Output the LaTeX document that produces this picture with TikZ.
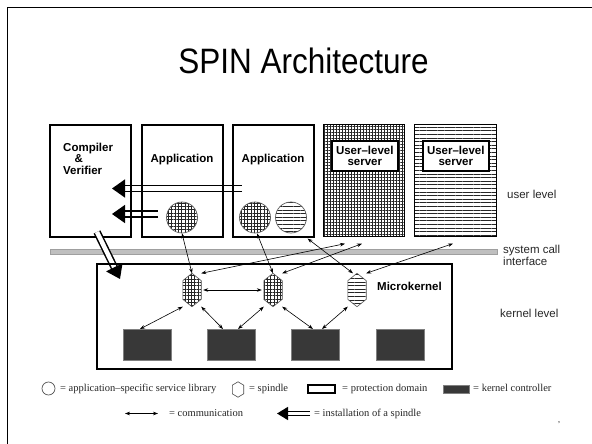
\documentclass[tikz,border=0pt]{standalone}
\usepackage{fontspec}
\setmainfont{Liberation Serif}
\setsansfont{Liberation Sans}
\usetikzlibrary{arrows.meta,patterns.meta,calc}

\newcommand{\spindleshape}[2]{%
	\draw[gray!60!black, line width=.6pt, preaction={fill=white}, #2]
		(#1.north) -- ($(#1.north east)!.22!(#1.south east)$)
		-- ($(#1.south east)!.22!(#1.north east)$) -- (#1.south)
		-- ($(#1.south west)!.22!(#1.north west)$)
		-- ($(#1.north west)!.22!(#1.south west)$) -- cycle;}

\begin{document}
\begin{tikzpicture}[
		x=1pt, y=-1pt,
		every node/.style={inner sep=0pt},
		pdomain/.style={draw, line width=1.6pt, minimum width=81, minimum height=112, anchor=north west},
		boxtext/.style={font=\sffamily\bfseries\fontsize{11.5}{11.5}\selectfont},
		side/.style={font=\sffamily\fontsize{11.5}{12}\selectfont, text=black!85, anchor=base west, align=left},
		gridfill/.style={pattern={Hatch[distance=3.3pt, line width=.55pt]}, pattern color=black!85},
		linefill/.style={pattern={Lines[distance=3.6pt, line width=.6pt]}, pattern color=black!85},
		lib/.style={circle, draw=gray!70!black, line width=.7pt, minimum size=31},
		spin/.style={minimum width=18, minimum height=33},
		ctrl/.style={draw=gray, fill=black!78, minimum width=48, minimum height=31, anchor=north west},
		comm/.style={{Stealth[length=5pt, width=3.6pt]}-{Stealth[length=5pt, width=3.6pt]}, line width=.6pt},
		install/.style={double, double distance=4.5pt, line width=1.5pt, -{Triangle[length=13pt, width=18pt]}},
		legend/.style={font=\fontsize{10.5}{12}\selectfont, text=black!85, anchor=base west}]

	\useasboundingbox (0,0) rectangle (592,444);
	\draw[line width=1.5pt] (7.5,444) -- (7.5,7.5) -- (592,7.5);
	\node[font=\sffamily\fontsize{31.5}{34}\selectfont, anchor=base] (title) at (303.5,74) {\scalebox{1}[1.12]{SPIN Architecture}};

	\coordinate (inA) at (242,188.5);
	\coordinate (tipA) at (112,188.5);
	\coordinate (inB) at (158,214);
	\coordinate (tipB) at (112,214);
	\coordinate (inC) at (97,232);
	\coordinate (tipC) at (120,279);
	\draw[install] (inA) -- (tipA);
	\draw[install] (inB) -- (tipB);

	\node[pdomain] (cv) at (49,124) {};
	\node[pdomain] (a1) at (141,124) {};
	\node[pdomain] (a2) at (232,124) {};
	\node[pdomain, gridfill, pattern={Hatch[distance=3pt, line width=.7pt]}] (sv1) at (323,124) {};
	\node[pdomain, linefill, minimum width=82] (sv2) at (414,124) {};
	\node[draw, line width=1.6pt, fill=white, minimum width=66, minimum height=30, anchor=north west,
		boxtext, align=center] (sv1in) at (331,140) {User--level\\server};
	\node[draw, line width=1.6pt, fill=white, minimum width=66, minimum height=30, anchor=north west,
		boxtext, align=center] (sv2in) at (422,140) {User--level\\server};

	\node[boxtext, align=left, anchor=north west] (cvtext) at (63,142.5) {Compiler\\\quad\&\\Verifier};
	\node[boxtext, anchor=base] (a1text) at (182,162) {Application};
	\node[boxtext, anchor=base] (a2text) at (273,162) {Application};

	\node[lib, gridfill] (c1) at (182,217.5) {};
	\node[lib, gridfill] (c2) at (255,217.5) {};
	\node[lib, linefill] (c3) at (291,217.5) {};

	\fill[gray!50, draw=gray!75] (50,249.5) rectangle (497,254);
	\draw[install] (inC) -- (tipC);

	\node[draw, line width=2pt, minimum width=355, minimum height=105, anchor=north west] (mk) at (96,263) {};
	\node[boxtext, anchor=base west] (mktext) at (377,290) {Microkernel};

	\node[side] (user) at (507,198) {user level};
	\node[side, anchor=north west] (sys) at (503,244.5) {system call\\interface};
	\node[side] (kern) at (500,317) {kernel level};

	\node[spin] (s1) at (192,290) {};
	\node[spin] (s2) at (273,290) {};
	\node[spin] (s3) at (357,290) {};
	\spindleshape{s1}{gridfill}
	\spindleshape{s2}{gridfill}
	\spindleshape{s3}{linefill}

	\node[ctrl] (k1) at (123,329) {};
	\node[ctrl] (k2) at (207,329) {};
	\node[ctrl] (k3) at (291,329) {};
	\node[ctrl] (k4) at (376,329) {};

	\draw[comm] (c1.south) -- (s1.north);
	\draw[comm] ([xshift=2]c2.south) -- (s2.north);
	\draw[comm] ([xshift=-7,yshift=-1]a2.south east) -- ([xshift=-4]s3.north);
	\draw[comm] ([xshift=22,yshift=-7]sv1.south west) -- (s1.north east);
	\draw[comm] ([xshift=39,yshift=-7]sv1.south west) -- (s2.north east);
	\draw[comm] ([xshift=39,yshift=-7]sv2.south west) -- (s3.north east);
	\draw[comm] ([xshift=2]s1.east) -- ([xshift=-2]s2.west);
	\draw[comm] (s1.south west) -- ([xshift=17]k1.north west);
	\draw[comm] (s1.south east) -- ([xshift=16]k2.north west);
	\draw[comm] (s2.south west) -- ([xshift=31]k2.north west);
	\draw[comm] (s2.south east) -- ([xshift=22]k3.north west);
	\draw[comm] (s3.south west) -- ([xshift=31]k3.north west);

	\node[circle, draw=gray!70!black, line width=.7pt, minimum size=13] (lc) at (48.5,388.5) {};
	\node[legend] (lctext) at (60,391) {= application--specific service library};
	\node[minimum width=11, minimum height=15] (ls) at (238,389.5) {};
	\spindleshape{ls}{}
	\node[legend] (lstext) at (249,391) {= spindle};
	\node[draw, line width=1.6pt, minimum width=27, minimum height=8] (ld) at (321.5,389) {};
	\node[legend] (ldtext) at (342,391) {= protection domain};
	\node[draw=gray, fill=black!78, minimum width=26, minimum height=8] (lk) at (456,389) {};
	\node[legend] (lktext) at (473,391) {= kernel controller};

	\coordinate (lcA) at (125,413.5);
	\coordinate (lcB) at (158,413.5);
	\draw[comm] (lcA) -- (lcB);
	\node[legend] (lcommtext) at (169,416.5) {= communication};
	\coordinate (liA) at (310,413.5);
	\coordinate (liB) at (277,413.5);
	\draw[install, double distance=3pt, line width=1.4pt, -{Triangle[length=11pt, width=13pt]}] (liA) -- (liB);
	\node[legend] (litext) at (314,416.5) {= installation of a spindle};

	\node[font=\fontsize{8}{8}\selectfont, anchor=base] (mark) at (559,422) {,};
\end{tikzpicture}
\end{document}
